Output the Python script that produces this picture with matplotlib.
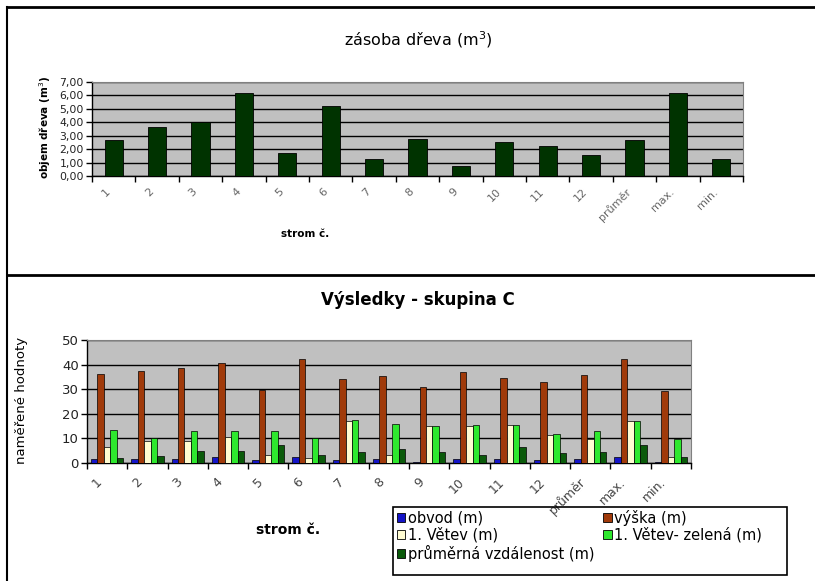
import numpy as np
import matplotlib
matplotlib.use("Agg")
import matplotlib.pyplot as plt
from matplotlib.lines import Line2D
from matplotlib.patches import Patch, Rectangle
from matplotlib.transforms import ScaledTranslation

# data
categories = ['1', '2', '3', '4', '5', '6', '7', '8', '9', '10', '11', '12', 'průměr', 'max.', 'min.']
zasoba = [2.70, 3.65, 4.00, 6.15, 1.75, 5.25, 1.30, 2.75, 0.72, 2.55, 2.20, 1.60, 2.65, 6.15, 1.30]

obvod = [1.8, 1.8, 1.8, 2.3, 1.2, 2.3, 1.2, 1.8, 0.5, 1.7, 1.7, 1.1, 1.8, 2.3, 0.4]
vyska = [36.0, 37.5, 38.5, 40.8, 29.5, 42.3, 34.3, 35.3, 31.0, 36.8, 34.6, 33.0, 35.7, 42.2, 29.4]
vetev = [6.5, 9.0, 9.0, 10.5, 3.3, 2.2, 17.0, 3.3, 15.0, 15.2, 15.3, 11.4, 9.8, 16.9, 2.3]
zelena = [13.5, 10.0, 13.0, 13.0, 13.0, 10.0, 17.3, 15.7, 15.0, 15.4, 15.4, 11.6, 13.2, 17.1, 9.9]
vzdalenost = [2.2, 2.8, 5.0, 5.0, 7.3, 3.4, 4.5, 5.6, 4.4, 3.3, 6.6, 3.9, 4.5, 7.2, 2.3]

series_names = ['obvod (m)', 'výška (m)', '1. Větev (m)', '1. Větev- zelená (m)', 'průměrná vzdálenost (m)']
series_colors = ['#1414c8', '#a03a0a', '#fffcd2', '#2ee82e', '#0a5a0a']

W, H = 815, 581
fig = plt.figure(figsize=(W / 100, H / 100), dpi=100)
plt.rcParams['font.family'] = 'DejaVu Sans'

def fr(x0, y0, x1, y1):
    # pixel box -> figure fraction rect
    return [x0 / W, 1 - y1 / H, (x1 - x0) / W, (y1 - y0) / H]

x = np.arange(len(categories))

def style_axes(ax, ymax, ystep, fmt, ysize, xsize, xcolor, dx, dy):
    ax.set_facecolor('#c0c0c0')
    ax.set_xlim(-0.5, len(categories) - 0.5)
    ax.set_ylim(0, ymax)
    ax.set_yticks(np.arange(0, ymax + ystep / 2, ystep))
    ax.set_yticklabels([fmt(v) for v in np.arange(0, ymax + ystep / 2, ystep)], fontsize=ysize,
                       color='#222222')
    ax.yaxis.grid(True, color='black', lw=1.0)
    ax.set_axisbelow(True)
    ax.set_xticks(np.arange(-0.5, len(categories), 1.0))
    ax.set_xticklabels([])
    ax.set_xticks(x, minor=True)
    ax.set_xticklabels(categories, minor=True, rotation=45, ha='right', va='center',
                       rotation_mode='anchor', fontsize=xsize, color=xcolor)
    ax.tick_params(axis='x', which='minor', length=0, pad=0)
    ax.tick_params(axis='x', which='major', length=4, width=1, direction='out')
    ax.tick_params(axis='y', length=4, width=1, direction='out', pad=2)
    off = ScaledTranslation(dx / 100, dy / 100, fig.dpi_scale_trans)
    for lab in ax.get_xticklabels(minor=True):
        lab.set_transform(lab.get_transform() + off)
    for s in ['top', 'right']:
        ax.spines[s].set_color('#808080')
        ax.spines[s].set_linewidth(0.8)
    for s in ['left', 'bottom']:
        ax.spines[s].set_linewidth(1.0)

# top chart
ax1 = fig.add_axes(fr(92, 82, 743, 176))
ax1.bar(x, zasoba, width=0.42, color='#003300', edgecolor='black', lw=0.6, zorder=3)
style_axes(ax1, 7, 1, lambda v: f'{v:.2f}'.replace('.', ','), 7.8, 8, '#666666', -5, -14)
fig.text(418 / W, 1 - 40 / H, 'zásoba dřeva (m$^3$)', ha='center', va='center', fontsize=11.5)
fig.text(45 / W, 1 - 128 / H, 'objem dřeva (m$^3$)', ha='center', va='center', rotation=90,
         fontsize=7.5, fontweight='bold')
fig.text(305 / W, 1 - 234 / H, 'strom č.', ha='center', va='center', fontsize=7.5, fontweight='bold')

# bottom chart
ax2 = fig.add_axes(fr(87, 340, 691, 463))
bw = 0.16
all_series = [obvod, vyska, vetev, zelena, vzdalenost]
handles = []
for i, (vals, name, col) in enumerate(zip(all_series, series_names, series_colors)):
    ax2.bar(x + (i - 2) * bw, vals, width=bw, color=col, edgecolor='black', lw=0.5, zorder=3)
    handles.append(Patch(facecolor=col, edgecolor='black', lw=0.6, label=name))
style_axes(ax2, 50, 10, lambda v: f'{v:.0f}', 9.5, 9, '#444444', -7, -17)
fig.text(418 / W, 1 - 300 / H, 'Výsledky - skupina C', ha='center', va='center', fontsize=12,
         fontweight='bold')
fig.text(22 / W, 1 - 400 / H, 'naměřené hodnoty', ha='center', va='center', rotation=90, fontsize=9.5)
fig.text(288 / W, 1 - 530 / H, 'strom č.', ha='center', va='center', fontsize=10, fontweight='bold')

# legend, row order like excel; box drawn separately so it can be wider
order = [0, 2, 4, 1, 3]
leg = fig.legend([handles[k] for k in order], [series_names[k] for k in order],
                 loc='upper left', bbox_to_anchor=(393 / W, 1 - 506 / H), ncol=2, fontsize=10.5,
                 frameon=False, handlelength=0.6, handleheight=0.6, handletextpad=0.15,
                 columnspacing=0.6, labelspacing=0.12, borderpad=0.25, borderaxespad=0)
fig.add_artist(Rectangle((393 / W, 1 - 575 / H), (787 - 393) / W, 68 / H, transform=fig.transFigure,
                         facecolor='none', edgecolor='black', lw=1.2))

# frame lines around charts
fig.add_artist(Line2D([7 / W, 1], [1 - 7 / H, 1 - 7 / H], color='black', lw=2))
fig.add_artist(Line2D([7 / W, 7 / W], [1 - 7 / H, 0], color='black', lw=1.5))
fig.add_artist(Line2D([7 / W, 1], [1 - 275 / H, 1 - 275 / H], color='black', lw=2))

fig.savefig('out.png', dpi=100)
